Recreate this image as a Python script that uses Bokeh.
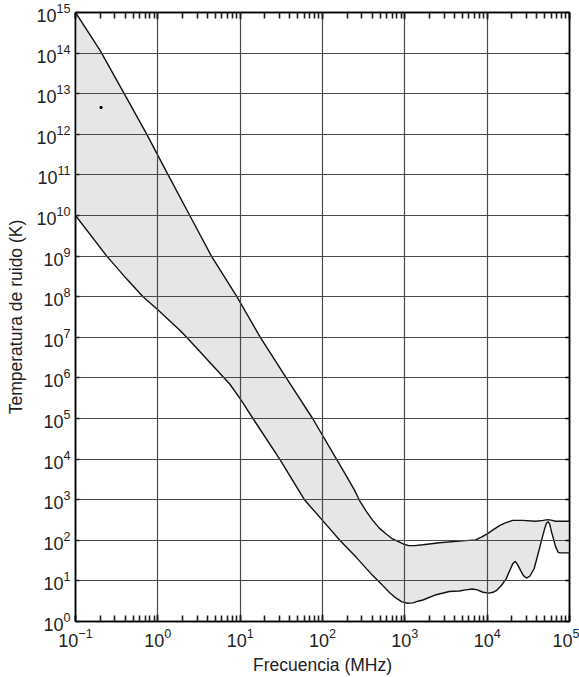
from bokeh.plotting import figure
from bokeh.models import LogAxis, LogTicker, FixedTicker, CustomJSTickFormatter
from bokeh.embed import file_html
from bokeh.resources import INLINE

# Noise temperature envelope: exponents (log10) of frequency in MHz and temperature in K
upper_logf = [-1.0, -0.70, -0.40, -0.137, 0.125, 0.388, 0.651, 0.96, 1.245, 1.56,
              1.88, 2.17, 2.30, 2.39, 2.45, 2.53, 2.61, 2.69, 2.77, 2.84, 2.91,
              2.98, 3.05, 3.12, 3.22, 3.42, 3.66, 3.86, 3.93, 4.0, 4.08, 4.15,
              4.22, 4.31, 4.43, 4.59, 4.68, 4.74, 4.79, 4.83, 5.0]
upper_logt = [15.0, 14.06, 12.97, 12.01, 11.0, 10.0, 9.0, 8.0, 7.0, 6.0,
              5.0, 4.0, 3.55, 3.23, 2.98, 2.72, 2.49, 2.30, 2.16, 2.05, 1.98,
              1.91, 1.87, 1.87, 1.89, 1.94, 1.98, 2.01, 2.08, 2.16, 2.27, 2.36,
              2.43, 2.49, 2.49, 2.47, 2.49, 2.51, 2.49, 2.47, 2.47]

lower_logf = [-1.0, -0.62, -0.38, -0.18, 0.0, 0.27, 0.35, 0.873, 1.01, 1.155,
              1.48, 1.78, 2.0, 2.21, 2.41, 2.61, 2.73, 2.81, 2.89, 2.96, 3.03,
              3.10, 3.16, 3.22, 3.38, 3.54, 3.66, 3.74, 3.82, 3.88, 3.95, 4.02,
              4.07, 4.11, 4.17, 4.23, 4.28, 4.31, 4.34, 4.37, 4.41, 4.44, 4.48,
              4.52, 4.57, 4.61, 4.66, 4.70, 4.72, 4.74, 4.76, 4.78, 4.81, 4.83,
              4.86, 4.88, 5.0]
lower_logt = [10.0, 9.0, 8.44, 8.0, 7.68, 7.17, 7.0, 5.85, 5.46, 5.0,
              4.0, 3.0, 2.49, 2.0, 1.58, 1.13, 0.89, 0.72, 0.58, 0.49, 0.45,
              0.46, 0.50, 0.53, 0.66, 0.74, 0.75, 0.78, 0.80, 0.78, 0.72, 0.70,
              0.72, 0.76, 0.88, 1.05, 1.28, 1.42, 1.48, 1.40, 1.24, 1.13, 1.07,
              1.12, 1.30, 1.60, 2.0, 2.30, 2.42, 2.46, 2.40, 2.22, 2.0, 1.85,
              1.71, 1.69, 1.69]

# isolated point marked inside the band
dot_logf = [-0.69]
dot_logt = [12.66]

y_decades = list(range(0, 16))

upper_f = [10 ** v for v in upper_logf]
upper_t = [10 ** v for v in upper_logt]
lower_f = [10 ** v for v in lower_logf]
lower_t = [10 ** v for v in lower_logt]

FONT = "Liberation Sans"
TICK = "#1e1e1e"

p = figure(width=579, height=677, x_axis_type="log", y_axis_type="log",
           x_range=(0.1, 1e5), y_range=(1, 1e15),
           min_border_left=75, min_border_right=10, min_border_top=12,
           min_border_bottom=56, output_backend="svg", toolbar_location=None,
           background_fill_color="white", border_fill_color="white")

# decades with 2..9 minor marks along frequency; one mark per decade for temperature
x_ticker = LogTicker(desired_num_ticks=7, num_minor_ticks=10)
y_ticker = FixedTicker(ticks=[10.0 ** k for k in y_decades])

# shaded band between the two bounds
p.patch(upper_f + lower_f[::-1], upper_t + lower_t[::-1],
        fill_color="#e5e6e8", line_color=None)

p.line(upper_f, upper_t, line_color="#111111", line_width=1.4, line_join="round")
p.line(lower_f, lower_t, line_color="#111111", line_width=1.4, line_join="round")
p.scatter([10 ** v for v in dot_logf], [10 ** v for v in dot_logt],
          marker="square", size=2, color="black")

p.xaxis.ticker = x_ticker
p.yaxis.ticker = y_ticker
p.xgrid.ticker = x_ticker
p.ygrid.ticker = y_ticker
p.grid.grid_line_color = "#4a4a4a"
p.grid.grid_line_width = 1.2
p.grid.level = "glyph"
p.outline_line_color = "black"
p.outline_line_width = 1.5

for ax in (p.xaxis[0], p.yaxis[0]):
    ax.axis_line_color = "black"
    ax.axis_line_width = 1.5
    ax.major_tick_out = 0
    ax.major_tick_line_width = 1.5
    ax.major_tick_line_color = TICK
    ax.major_label_text_font = FONT
    ax.major_label_text_font_size = "18px"
    ax.major_label_text_color = "#222222"
    ax.axis_label_text_font = FONT
    ax.axis_label_text_font_size = "17.5px"
    ax.axis_label_text_font_style = "normal"
    ax.axis_label_text_color = "#222222"

p.xaxis.major_tick_in = 7
p.xaxis.minor_tick_in = 6
p.xaxis.minor_tick_out = 0
p.xaxis.minor_tick_line_width = 1.6
p.xaxis.minor_tick_line_color = TICK
p.xaxis.major_label_standoff = 6
p.xaxis.axis_label = "Frecuencia (MHz)"
p.xaxis.axis_label_standoff = 5

p.yaxis.major_tick_in = 4
p.yaxis.minor_tick_in = 0
p.yaxis.minor_tick_out = 0
p.yaxis.major_label_standoff = 5
p.yaxis.axis_label = "Temperatura de ruido (K)"
p.yaxis.axis_label_standoff = 7

blank = CustomJSTickFormatter(code="return '';")
top = LogAxis(ticker=x_ticker, formatter=blank, major_tick_in=7, major_tick_out=0,
              minor_tick_in=6, minor_tick_out=0, major_label_standoff=0,
              axis_line_width=1.5, major_tick_line_width=1.5, minor_tick_line_width=1.6,
              minor_tick_line_color=TICK, major_tick_line_color=TICK)
right = LogAxis(ticker=y_ticker, formatter=blank, major_tick_in=4, major_tick_out=0,
                minor_tick_in=0, minor_tick_out=0, major_label_standoff=0,
                axis_line_width=1.5, major_tick_line_width=1.5)
p.add_layout(top, "above")
p.add_layout(right, "right")

open("out.html", "w").write(file_html(p, INLINE))
